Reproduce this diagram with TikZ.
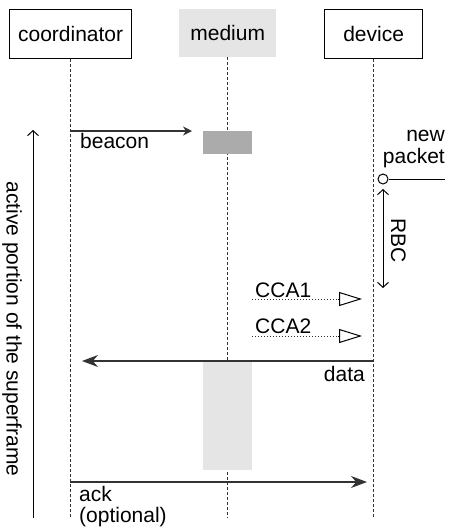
\documentclass[tikz,border=0pt]{standalone}
\usepackage{fontspec}
\setmainfont{Liberation Sans}
\usetikzlibrary{arrows.meta}
\begin{document}
\begin{tikzpicture}[x=1pt,y=-1pt,
  every node/.style={font=\fontsize{21}{24}\selectfont, inner sep=0pt},
  actor/.style={draw, line width=1.3pt, minimum height=49pt, anchor=north west},
  life/.style={dashed, dash pattern=on 3pt off 2pt, line width=0.8pt, black!80},
  msg/.style={line width=1.2pt, black!80},
  lbl/.style={anchor=base west},
  cca/.style={dotted, line width=1pt, black!80},
  ccahead/.style={-{Triangle[open, length=23pt, width=14pt, line width=1pt]}}
]
\useasboundingbox (0,0) rectangle (450,528);
% actors
\node[actor, minimum width=122pt] (coord) at (9,9) {coordinator};
\node[fill=black!10, minimum width=97pt, minimum height=48pt, anchor=north west] (med) at (179,9) {medium};
\node[actor, minimum width=98pt] (dev) at (324,9) {device};
% lifelines
\coordinate (cb) at (70,518);
\coordinate (mb) at (228,518);
\coordinate (db) at (373,518);
\draw[life] (coord.south) -- (coord.south |- cb);
\draw[life] (med.south) -- (med.south |- mb);
\draw[life] (dev.south) -- (dev.south |- db);
% medium blocks
\node[fill=black!33, minimum width=49pt, minimum height=23pt, anchor=north west] (bblk) at (203,131) {};
\node[fill=black!10, minimum width=49pt, minimum height=110pt, anchor=north west] (dblk) at (203,360) {};
% beacon
\coordinate (b0) at (70,131);
\coordinate (b1) at (192,131);
\draw[msg, -{Stealth[length=9pt,width=9pt]}] (b0) -- (b1);
\node[lbl] (beacon) at (80,148) {beacon};
% new packet
\node[anchor=base east] (np1) at (445,141) {new};
\node[anchor=base east] (np2) at (445,163) {packet};
\node[draw, circle, minimum size=10pt, line width=1pt, fill=white] (pk) at (383,179) {};
\coordinate (pkr) at (445,179);
\draw[line width=1pt] (pk.east) -- (pkr);
% RBC
\coordinate (r0) at (383,189);
\coordinate (r1) at (383,288);
\draw[line width=1pt, {Straight Barb[length=5pt,width=11pt]}-{Straight Barb[length=5pt,width=11pt]}] (r0) -- (r1);
\node[rotate=-90, anchor=base west] (rbc) at (391,218) {RBC};
% CCA1
\coordinate (c1a) at (252,299);
\coordinate (c1b) at (338,299);
\coordinate (c1c) at (362,299);
\draw[cca] (c1a) -- (c1b);
\draw[ccahead, line width=1pt] (c1b) -- (c1c);
\node[lbl] (cca1) at (255,297) {CCA1};
% CCA2
\coordinate (c2a) at (252,336);
\coordinate (c2b) at (338,336);
\coordinate (c2c) at (362,336);
\draw[cca] (c2a) -- (c2b);
\draw[ccahead, line width=1pt] (c2b) -- (c2c);
\node[lbl] (cca2) at (255,333) {CCA2};
% data
\coordinate (d0) at (373,361);
\coordinate (d1) at (82,361);
\draw[msg, -{Stealth[length=16pt,width=12pt]}] (d0) -- (d1);
\node[anchor=base east] (data) at (365,381) {data};
% ack
\coordinate (a0) at (70,482);
\coordinate (a1) at (367,482);
\draw[msg, -{Stealth[length=16pt,width=12pt]}] (a0) -- (a1);
\node[lbl] (ack) at (79,501) {ack};
\node[lbl] (opt) at (79,522) {(optional)};
% superframe
\coordinate (s0) at (33,518);
\coordinate (s1) at (33,130);
\draw[line width=1pt, -{Straight Barb[length=5pt,width=11pt]}] (s0) -- (s1);
\node[rotate=-90] (sf) at (12,329) {active portion of the superframe};
\end{tikzpicture}
\end{document}
